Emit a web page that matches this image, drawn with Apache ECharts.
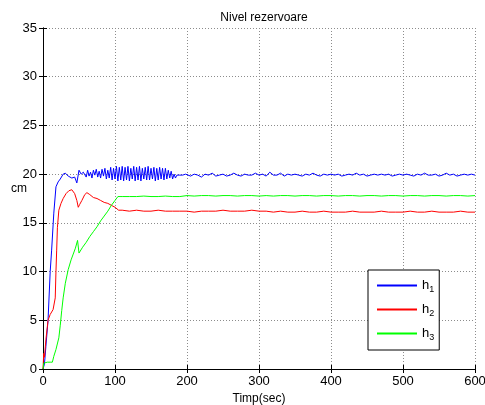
<!DOCTYPE html>
<html>
<head>
<meta charset="utf-8">
<script src="https://cdn.jsdelivr.net/npm/echarts@6/dist/echarts.min.js"></script>
<style>
  html, body { margin: 0; padding: 0; background: #fff; }
  #chart { width: 485px; height: 405px; }
</style>
</head>
<body>
<div id="chart"></div>
<script>
// Tank levels h1, h2, h3 (cm) over time (sec)
const xTicks = [0, 100, 200, 300, 400, 500, 600];
const yTicks = [0, 5, 10, 15, 20, 25, 30, 35];

const h1Time = [0, 2, 4, 7, 10, 12, 15, 18, 21, 24, 28, 31, 35, 40, 44, 47, 50, 53, 56,
  58, 60, 62, 64, 66, 68, 70, 72, 74, 76, 78, 80, 82, 84, 86, 88, 90, 92, 94, 96, 98, 100,
  102, 104, 106, 108, 110, 112, 114, 116, 118, 120, 122, 124, 126, 128, 130, 132, 134, 136, 138, 140,
  142, 144, 146, 148, 150, 152, 154, 156, 158, 160, 162, 164, 166, 168, 170, 172, 174, 176, 178, 180,
  182, 184, 186, 188, 190, 192, 194, 196, 198, 200,
  205, 210, 215, 220, 225, 230, 235, 240, 245, 250, 255, 260, 265, 270, 275, 280, 285, 290, 295, 300,
  305, 310, 315, 320, 325, 330, 335, 340, 345, 350, 355, 360, 365, 370, 375, 380, 385, 390, 395, 400,
  405, 410, 415, 420, 425, 430, 435, 440, 445, 450, 455, 460, 465, 470, 475, 480, 485, 490, 495, 500,
  505, 510, 515, 520, 525, 530, 535, 540, 545, 550, 555, 560, 565, 570, 575, 580, 585, 590, 595, 600];
const h1Level = [0, 0.5, 2.3, 5, 10, 12.2, 16, 18.7, 19.2, 19.5, 20.0, 20.1, 19.8, 19.6, 19.7, 19.1, 20.4, 20.0, 20.2,
  20.3, 19.7, 20.4, 19.8, 20.2, 19.6, 20.4, 19.9, 20.5, 19.7, 20.3, 19.6, 20.5, 19.8, 20.6, 19.5, 20.4, 19.6, 20.7, 19.4, 20.6, 19.5,
  20.8, 19.3, 20.7, 19.4, 20.8, 19.3, 20.7, 19.4, 20.8, 19.3, 20.6, 19.5, 20.8, 19.3, 20.7, 19.4, 20.8, 19.3, 20.6, 19.5,
  20.7, 19.4, 20.8, 19.4, 20.6, 19.5, 20.7, 19.3, 20.6, 19.4, 20.7, 19.5, 20.6, 19.4, 20.6, 19.5, 20.4, 19.6, 20.3, 19.5,
  20.0, 19.6, 19.9, 20.0, 19.9, 20.1, 19.9, 19.8, 20.0, 19.9,
  19.8, 20.0, 19.9, 19.7, 20.0, 19.9, 20.1, 19.8, 19.9, 20.0, 19.8, 19.9, 20.1, 19.9, 19.8, 20.0, 19.9, 19.9, 20.1, 19.9,
  20.0, 19.8, 20.2, 19.9, 19.9, 20.1, 19.8, 20.0, 19.9, 20.0, 19.9, 19.8, 20.0, 19.9, 20.1, 19.9, 19.8, 20.0, 19.9, 20.0,
  19.9, 20.0, 19.8, 19.9, 20.0, 19.9, 20.1, 19.9, 20.0, 19.8, 19.9, 20.0, 19.9, 20.0, 19.9, 20.0, 19.8, 19.9, 20.0, 19.9,
  20.0, 19.9, 19.8, 20.0, 19.9, 20.1, 19.9, 19.9, 20.0, 19.8, 19.9, 20.1, 19.9, 20.0, 19.8, 19.9, 20.0, 19.9, 20.0, 19.9];

const h2Time = [0, 1, 2, 4, 7, 10, 14, 17, 18, 19, 20, 22, 25, 28, 32, 36, 40, 44, 47, 49, 51, 54, 58, 61,
  65, 70, 75, 80, 85, 90, 95, 100, 105, 110,
  120, 130, 140, 150, 160, 170, 180, 190, 200, 210, 220, 230, 240, 250, 260, 270, 280, 290, 300,
  310, 320, 330, 340, 350, 360, 370, 380, 390, 400, 410, 420, 430, 440, 450, 460, 470, 480, 490, 500,
  510, 520, 530, 540, 550, 560, 570, 580, 590, 600];
const h2Level = [0, 1.6, 1.2, 3.0, 5.0, 5.6, 6.1, 7.3, 10.0, 12.2, 14.5, 16.3, 17.0, 17.5, 18.0, 18.3, 18.4, 18.0, 17.3, 16.6, 16.9, 17.3, 17.9, 18.1,
  17.9, 17.6, 17.5, 17.3, 17.1, 17.0, 16.8, 16.6, 16.3, 16.3,
  16.2, 16.3, 16.2, 16.2, 16.3, 16.2, 16.2, 16.2, 16.2, 16.1, 16.2, 16.2, 16.2, 16.3, 16.2, 16.2, 16.2, 16.3, 16.2,
  16.2, 16.1, 16.2, 16.1, 16.1, 16.2, 16.1, 16.1, 16.2, 16.1, 16.1, 16.1, 16.2, 16.1, 16.1, 16.1, 16.2, 16.1, 16.1, 16.1,
  16.2, 16.1, 16.1, 16.2, 16.1, 16.1, 16.1, 16.2, 16.1, 16.1];

const h3Time = [0, 1, 3, 6, 10, 13, 15, 18, 22, 24, 26, 28, 31, 35, 39, 42, 45, 48, 50, 52, 55, 60,
  65, 70, 75, 80, 85, 90, 95, 100, 104, 107, 110,
  120, 130, 140, 150, 160, 170, 180, 190, 200, 210, 220, 230, 240, 250, 260, 270, 280, 290, 300,
  310, 320, 330, 340, 350, 360, 370, 380, 390, 400, 410, 420, 430, 440, 450, 460, 470, 480, 490, 500,
  510, 520, 530, 540, 550, 560, 570, 580, 590, 600];
const h3Level = [0, 0.6, 0.7, 0.7, 0.7, 0.7, 1.3, 2.0, 3.2, 4.5, 6.0, 7.3, 8.8, 10.2, 11.2, 11.8, 12.4, 13.2, 11.9, 12.1, 12.5, 13.0,
  13.6, 14.1, 14.6, 15.2, 15.7, 16.2, 16.8, 17.3, 17.7, 17.7, 17.7,
  17.7, 17.7, 17.75, 17.7, 17.7, 17.75, 17.7, 17.7, 17.8, 17.75, 17.8, 17.8, 17.75, 17.8, 17.8, 17.75, 17.8, 17.8, 17.75,
  17.8, 17.75, 17.8, 17.8, 17.75, 17.8, 17.8, 17.75, 17.8, 17.8, 17.75, 17.8, 17.8, 17.75, 17.8, 17.8, 17.75, 17.8, 17.8, 17.75,
  17.8, 17.8, 17.75, 17.8, 17.8, 17.75, 17.8, 17.8, 17.75, 17.8];

const seriesNames = ['h1', 'h2', 'h3'];
const seriesColors = ['#0000ff', '#ff0000', '#00ff00'];

const pairs = (t, v) => t.map((x, i) => [x, v[i]]);
const FONT = 'Liberation Sans, Arial, sans-serif';

const chart = echarts.init(document.getElementById('chart'), null, { renderer: 'canvas' });

const axisLineStyle = { show: true, lineStyle: { color: '#000', width: 1 } };
const tickStyle = { show: true, inside: true, length: 4, lineStyle: { color: '#000' } };
const gridLineStyle = { show: true, lineStyle: { color: '#8c8c8c', type: [1, 2], width: 1 } };

chart.setOption({
  animation: false,
  backgroundColor: '#fff',
  textStyle: { fontFamily: FONT },
  title: {
    text: 'Nivel rezervoare',
    left: 259, top: 7, textAlign: 'center',
    textStyle: { fontSize: 12, fontWeight: 'normal', color: '#000', fontFamily: FONT }
  },
  graphic: [{
    type: 'text', left: 11, top: 183,
    style: { text: 'cm', fontSize: 12, fill: '#000', fontFamily: FONT }
  }],
  grid: { left: 43, right: 10, top: 28, bottom: 36, containLabel: false, outerBoundsMode: 'none' },
  legend: {
    orient: 'vertical',
    left: 368, top: 270,
    padding: [9, 5, 8, 9],
    itemGap: 9,
    itemWidth: 40, itemHeight: 2,
    backgroundColor: '#fff',
    borderColor: '#000', borderWidth: 1,
    itemStyle: { borderWidth: 0 },
    data: seriesNames.map((n, i) => ({
      name: n,
      icon: 'rect',
      itemStyle: { color: seriesColors[i], borderWidth: 0 }
    })),
    formatter: n => '{h|h}{s|' + n.slice(1) + '}',
    textStyle: {
      color: '#000',
      rich: {
        h: { fontSize: 13, fontFamily: FONT, color: '#000' },
        s: { fontSize: 9, fontFamily: FONT, color: '#000', padding: [8, 0, 0, 0] }
      }
    }
  },
  xAxis: [{
    type: 'value', min: xTicks[0], max: xTicks[xTicks.length - 1], interval: 100,
    name: 'Timp(sec)', nameLocation: 'middle', nameGap: 24,
    nameTextStyle: { fontSize: 12, color: '#000', fontFamily: FONT },
    axisLine: axisLineStyle, axisTick: tickStyle,
    axisLabel: { color: '#000', fontSize: 13, margin: 6, fontFamily: FONT },
    splitLine: gridLineStyle
  }, {
    type: 'value', position: 'top', min: xTicks[0], max: xTicks[xTicks.length - 1], interval: 100,
    axisLine: axisLineStyle, axisTick: tickStyle,
    axisLabel: { show: false }, splitLine: { show: false }
  }],
  yAxis: [{
    type: 'value', min: yTicks[0], max: yTicks[yTicks.length - 1], interval: 5,
    axisLine: axisLineStyle, axisTick: tickStyle,
    axisLabel: { color: '#000', fontSize: 13, margin: 6, fontFamily: FONT },
    splitLine: gridLineStyle
  }, {
    type: 'value', position: 'right', min: yTicks[0], max: yTicks[yTicks.length - 1], interval: 5,
    axisLine: axisLineStyle, axisTick: tickStyle,
    axisLabel: { show: false }, splitLine: { show: false }
  }],
  series: [
    { name: seriesNames[0], data: pairs(h1Time, h1Level) },
    { name: seriesNames[1], data: pairs(h2Time, h2Level) },
    { name: seriesNames[2], data: pairs(h3Time, h3Level) }
  ].map((s, i) => Object.assign(s, {
    type: 'line', showSymbol: false, symbol: 'none',
    color: seriesColors[i],
    itemStyle: { color: seriesColors[i] },
    lineStyle: { color: seriesColors[i], width: 1 }
  }))
});
</script>
</body>
</html>
